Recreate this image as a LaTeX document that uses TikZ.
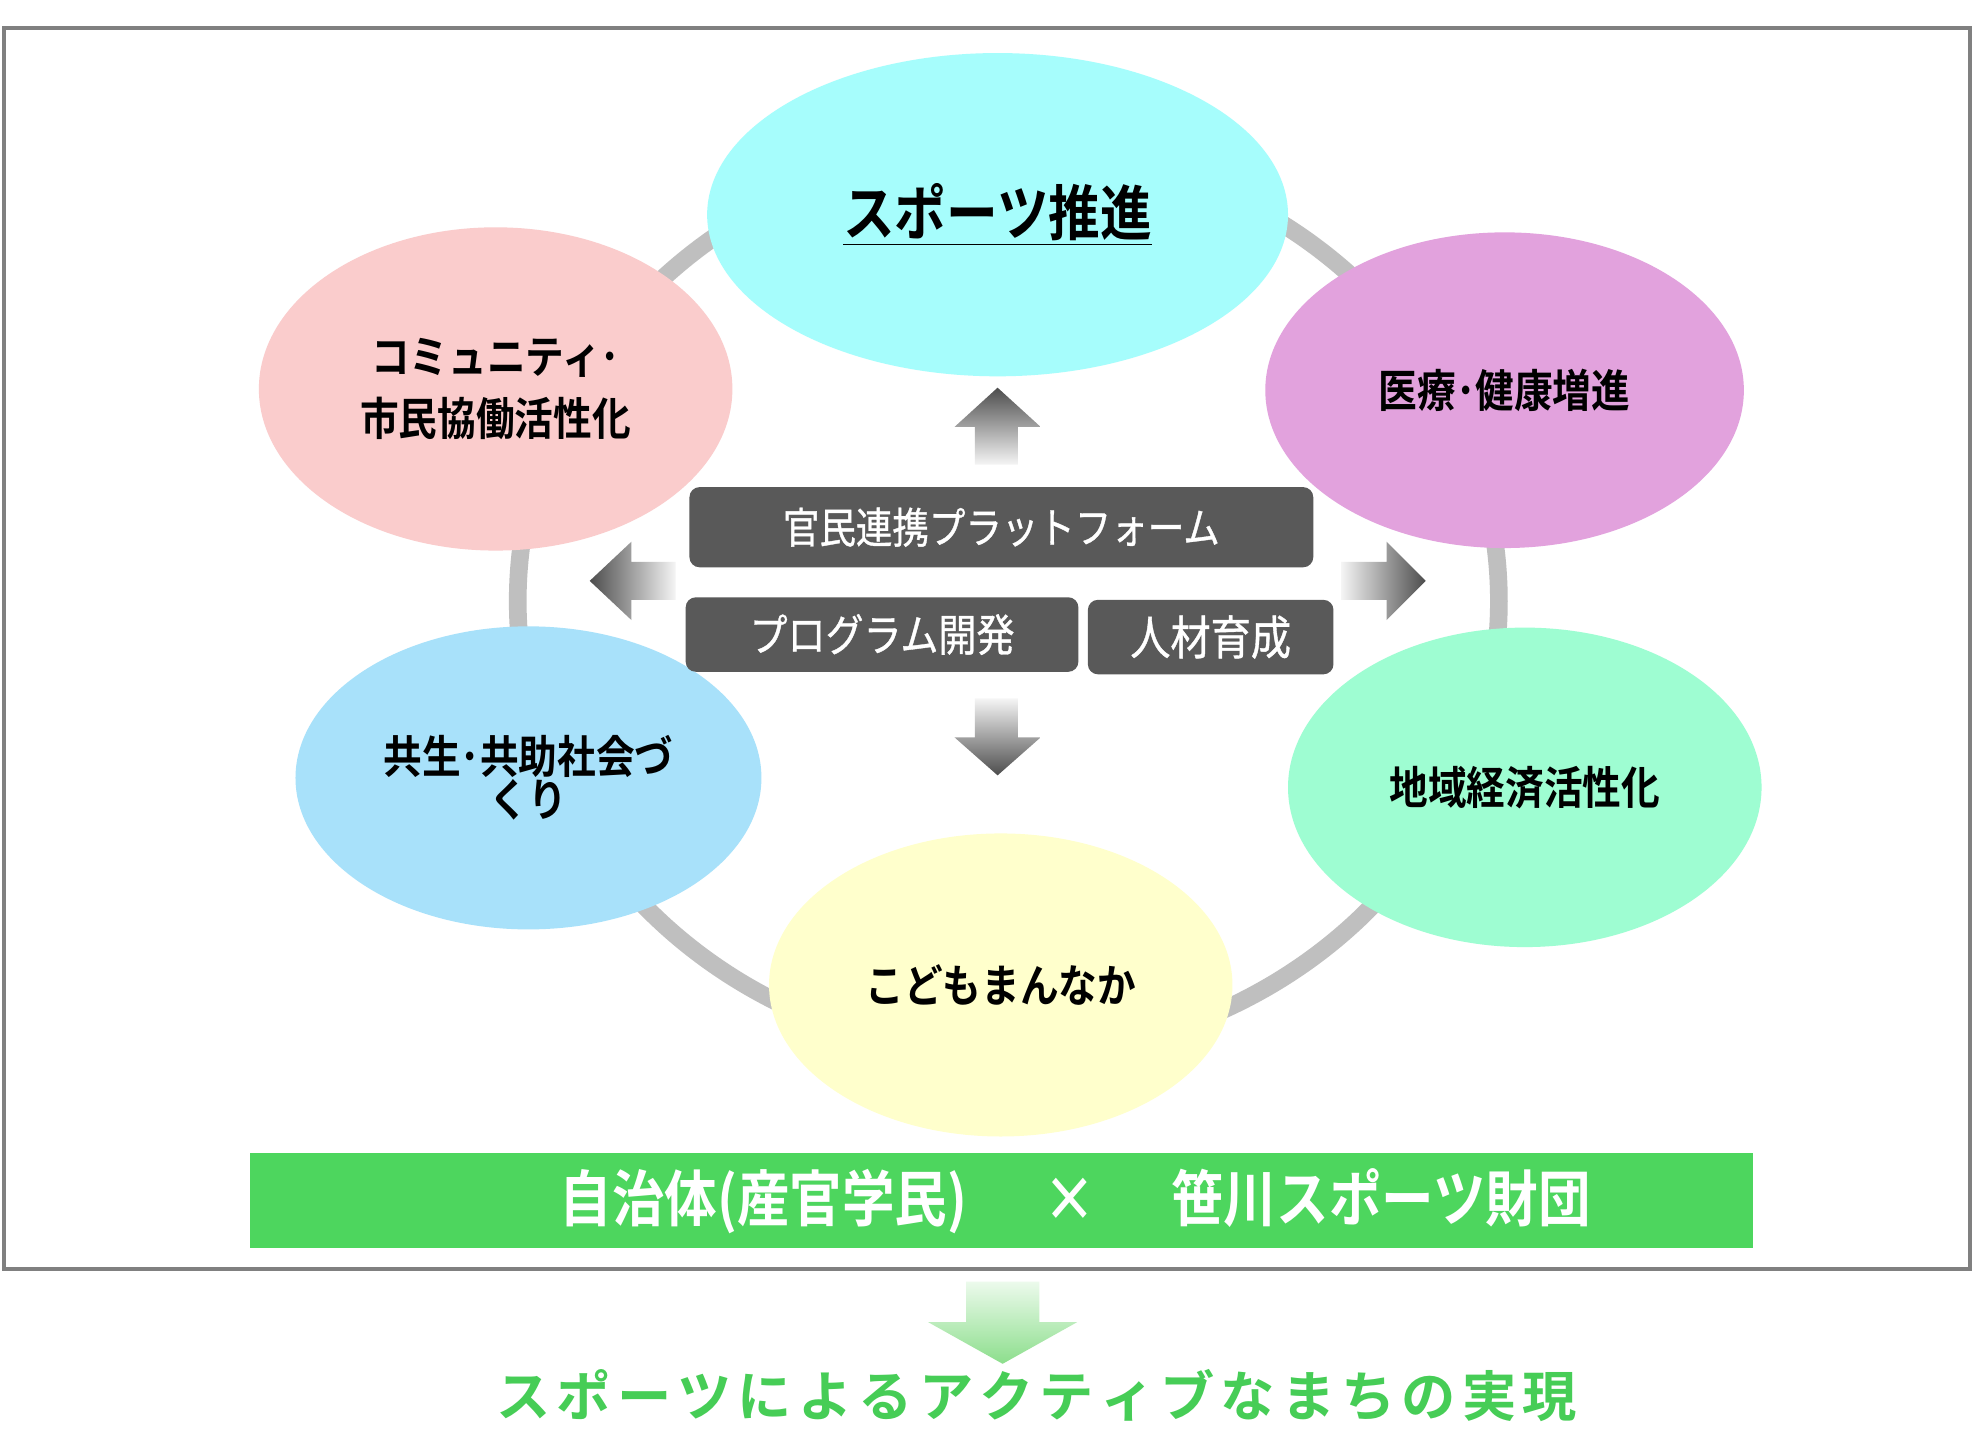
\documentclass[tikz,border=0pt]{standalone}
\usepackage{fontspec}
\setmainfont{Noto Sans CJK JP}[BoldFont={Noto Sans CJK JP Bold}, FakeStretch=0.86]
\newfontfamily\boxfont{Noto Sans CJK JP}[FakeStretch=0.86, FakeBold=0.8]
\newfontfamily\resultfont{Noto Sans CJK JP}[BoldFont={Noto Sans CJK JP Bold}]
\usetikzlibrary{shapes.geometric}
\definecolor{cyanE}{RGB}{166,253,252}
\definecolor{pinkE}{RGB}{250,204,204}
\definecolor{purpleE}{RGB}{226,162,221}
\definecolor{blueE}{RGB}{168,225,250}
\definecolor{mintE}{RGB}{158,253,210}
\definecolor{yellowE}{RGB}{255,255,204}
\definecolor{boxgray}{RGB}{89,89,89}
\definecolor{ringgray}{RGB}{191,191,191}
\definecolor{framegray}{RGB}{128,128,128}
\definecolor{barGreen}{RGB}{77,214,94}
\definecolor{textGreen}{RGB}{70,205,86}
\definecolor{arrowdark}{RGB}{77,77,77}
\definecolor{arrowlight}{RGB}{245,245,245}
\definecolor{greenlight}{RGB}{236,250,236}
\definecolor{greenmid}{RGB}{140,222,140}
\newcommand{\jkern}{\kern2.4pt}
\begin{document}
\begin{tikzpicture}[x=0.5pt,y=-0.5pt,
  bubble/.style={ellipse, inner sep=0pt, align=center, font=\fontsize{17.8pt}{20pt}\selectfont\bfseries},
  darkbox/.style={rounded corners=4pt, fill=boxgray, text=white, inner sep=0pt},
  grayarrow/.style={draw=none},
  barlabel/.style={text=white, inner sep=0pt, font=\fontsize{24.2pt}{28pt}\selectfont\bfseries}]
\useasboundingbox (0,0) rectangle (1568,1153);
\fill[white] (0,0) rectangle (1568,1153);
% outer frame
\draw[framegray, line width=1.6pt] (3,22) rectangle (1560,1005);
% ring
\draw[ringgray, line width=7pt] (798.5,476) ellipse [x radius=194.25pt, y radius=180pt];
% ellipses
\node[bubble, fill=cyanE, minimum width=230pt, minimum height=128pt] (sports) at (790,170)
  {\fontsize{23.8pt}{26pt}\selectfont\underline{スポーツ推進}};
\node[bubble, fill=pinkE, minimum width=187.5pt, minimum height=128pt, font=\fontsize{17.8pt}{24.5pt}\selectfont\bfseries] (community) at (392.5,308)
  {コミュニティ･\\市民協働活性化};
\node[bubble, fill=purpleE, minimum width=189.5pt, minimum height=125pt] (health) at (1191.5,309)
  {医療･健康増進};
\node[bubble, fill=blueE, minimum width=184.5pt, minimum height=120pt, font=\fontsize{17.8pt}{16pt}\selectfont\bfseries] (kyosei) at (418.5,616)
  {共生･共助社会づ\\くり};
\node[bubble, fill=mintE, minimum width=187.5pt, minimum height=126.5pt] (economy) at (1207.5,623.5)
  {地域経済活性化};
\node[bubble, fill=yellowE, minimum width=183.5pt, minimum height=120pt] (kodomo) at (792.5,780)
  {こどもまんなか};
% dark boxes
\node[darkbox, minimum width=247pt, minimum height=31.75pt, font=\boxfont\fontsize{16.8pt}{19pt}\selectfont] (platform) at (793,417.5) {官民連携プラットフォーム};
\node[darkbox, minimum width=155.5pt, minimum height=29.5pt, font=\boxfont\fontsize{17.5pt}{19pt}\selectfont] (program) at (698.5,502.5) {プログラム開発};
\node[darkbox, minimum width=97.25pt, minimum height=29.5pt, font=\boxfont\fontsize{18.5pt}{20pt}\selectfont] (jinzai) at (958.75,504.5) {人材育成};
% gray block arrows
\shade[grayarrow, top color=arrowdark, bottom color=arrowlight]
  (790,307) -- (824,338) -- (806,338) -- (806,368) -- (772,368) -- (772,338) -- (756,338) -- cycle;
\shade[grayarrow, top color=arrowlight, bottom color=arrowdark]
  (772,553) -- (806,553) -- (806,584) -- (824,584) -- (790,614) -- (756,584) -- (772,584) -- cycle;
\shade[grayarrow, left color=arrowlight, right color=arrowdark]
  (1062,445) -- (1098,445) -- (1098,429) -- (1129,460) -- (1098,491) -- (1098,475) -- (1062,475) -- cycle;
\shade[grayarrow, left color=arrowdark, right color=arrowlight]
  (535,445) -- (500,445) -- (500,429) -- (467,460) -- (500,491) -- (500,475) -- (535,475) -- cycle;
% green bar
\node[fill=barGreen, minimum width=595pt, minimum height=37.5pt, inner sep=0pt] (bar) at (793,950.5) {};
\node[barlabel] (barText) at (851.5,951)
  {自治体(産官学民)\hspace{30pt}×\hspace{30pt}笹川スポーツ財団};
% green arrow
\shade[top color=greenlight, bottom color=greenmid]
  (765,1015) -- (823,1015) -- (823,1047) -- (853,1047) -- (794,1080) -- (735,1047) -- (765,1047) -- cycle;
% result text
\node[text=textGreen, inner sep=0pt, font=\resultfont\fontsize{21.5pt}{26pt}\selectfont\bfseries] (result) at (821,1105)
  {ス\jkern ポ\jkern ー\jkern ツ\jkern に\jkern よ\jkern る\jkern ア\jkern ク\jkern テ\jkern ィ\jkern ブ\jkern な\jkern ま\jkern ち\jkern の\jkern 実\jkern 現};
\end{tikzpicture}
\end{document}
